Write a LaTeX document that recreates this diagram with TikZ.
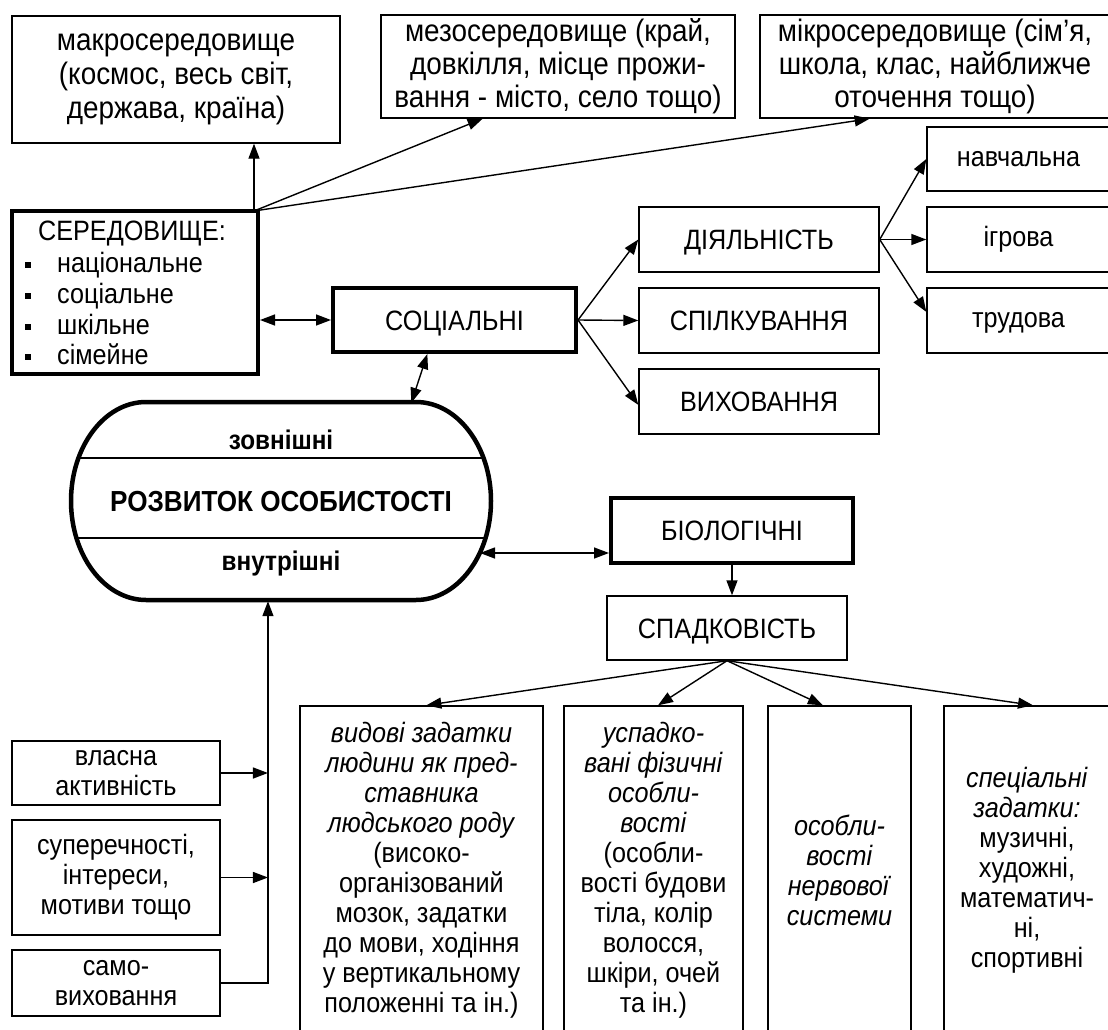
\documentclass[tikz,border=0pt]{standalone}
\usepackage{fontspec}
\setmainfont{Liberation Sans}[FakeStretch=0.9]
\usetikzlibrary{arrows.meta,calc}
\newcommand\bodyfs{\fontsize{28}{30}\selectfont}
\newcommand\topfs{\fontsize{31}{33}\selectfont}
\begin{document}
\begin{tikzpicture}[x=1pt,y=-1pt,
  bx/.style={draw, line width=1.4pt, inner sep=0pt, align=center, font=\bodyfs},
  tbx/.style={bx, line width=4pt},
  lc/.style={text height=14.5pt, text depth=0pt},
  uc/.style={text height=20pt, text depth=0pt},
  tip/.style={-{Triangle[length=15pt,width=11pt]}, line width=1.4pt},
  dtip/.style={{Triangle[length=15pt,width=11pt]}-{Triangle[length=15pt,width=11pt]}, line width=1.4pt},
  lbl/.style={inner sep=0pt, font=\bodyfs},
]
\useasboundingbox (0,0) rectangle (1108,1030);
\fill[white] (0,0) rectangle (1108,1030);

% top row
\node[bx, font=\fontsize{31}{34}\selectfont, minimum width=328pt, minimum height=127pt] (macro) at (176,79.5) {макросередовище\\(космос, весь світ,\\держава, країна)};
\node[bx, font=\topfs, minimum width=354pt, minimum height=103pt] (meso) at (558,66.5) {мезосередовище (край,\\довкілля, місце прожи-\\вання - місто, село тощо)};
\node[bx, font=\topfs, minimum width=350pt, minimum height=103pt] (micro) at (935,66.5) {мікросередовище (сім’я,\\школа, клас, найближче\\оточення тощо)};

% environment box
\node[tbx, minimum width=246pt, minimum height=163pt] (ser) at (135,292.5) {};
\node[lbl] (sertitle) at (132,234) {СЕРЕДОВИЩЕ:};
\node[lbl, anchor=base west] (s1) at (25,272) {\rule[4pt]{6pt}{6pt}\hspace{26pt}національне};
\node[lbl, anchor=base west] (s2) at (25,303) {\rule[4pt]{6pt}{6pt}\hspace{26pt}соціальне};
\node[lbl, anchor=base west] (s3) at (25,334) {\rule[4pt]{6pt}{6pt}\hspace{26pt}шкільне};
\node[lbl, anchor=base west] (s4) at (25,364) {\rule[4pt]{6pt}{6pt}\hspace{26pt}сімейне};

% social branch
\node[tbx, uc, minimum width=243pt, minimum height=64pt] (social) at (454.5,320) {СОЦІАЛЬНІ};
\node[bx, uc, minimum width=240pt, minimum height=65pt] (dial) at (759,239.5) {ДІЯЛЬНІСТЬ};
\node[bx, uc, minimum width=240pt, minimum height=65pt] (spilk) at (759,320.5) {СПІЛКУВАННЯ};
\node[bx, uc, minimum width=240pt, minimum height=65pt] (vykh) at (759,401.5) {ВИХОВАННЯ};
\node[bx, lc, minimum width=183pt, minimum height=64pt] (navch) at (1018.5,159) {навчальна};
\node[bx, lc, minimum width=183pt, minimum height=65pt] (igr) at (1018.5,239.5) {ігрова};
\node[bx, lc, minimum width=183pt, minimum height=65pt] (trud) at (1018.5,320.5) {трудова};

% central oval
\node[minimum width=420pt, minimum height=198pt, inner sep=0pt, font=\fontsize{29}{30}\selectfont\bfseries] (dev) at (281,502) {РОЗВИТОК ОСОБИСТОСТІ};
\begin{scope}
\clip (146,402) -- (416,402) .. controls (457.4,402) and (491,446.4) .. (491,501) .. controls (491,555.6) and (457.4,600) .. (416,600) -- (146,600) .. controls (104.6,600) and (71,555.6) .. (71,501) .. controls (71,446.4) and (104.6,402) .. (146,402) -- cycle;
\draw[line width=1.4pt] (60,458) -- (500,458);
\draw[line width=1.4pt] (60,538) -- (500,538);
\end{scope}
\draw[line width=4.5pt] (146,402) -- (416,402) .. controls (457.4,402) and (491,446.4) .. (491,501) .. controls (491,555.6) and (457.4,600) .. (416,600) -- (146,600) .. controls (104.6,600) and (71,555.6) .. (71,501) .. controls (71,446.4) and (104.6,402) .. (146,402) -- cycle;
\node[inner sep=0pt, font=\fontsize{27}{30}\selectfont\bfseries] (ext) at (281,440) {зовнішні};
\node[inner sep=0pt, font=\fontsize{27}{30}\selectfont\bfseries] (int) at (281,564) {внутрішні};

% biological branch
\node[tbx, uc, minimum width=242pt, minimum height=65pt] (bio) at (732,530.5) {БІОЛОГІЧНІ};
\node[bx, uc, minimum width=240pt, minimum height=64pt] (spadk) at (727,628) {СПАДКОВІСТЬ};
\node[bx, minimum width=243pt, minimum height=328pt] (vyd) at (421.5,870) {\textit{видові задатки}\\\textit{людини як пред-}\\\textit{ставника}\\\textit{людського роду}\\(високо-\\організований\\мозок, задатки\\до мови, ходіння\\у вертикальному\\положенні та ін.)};
\node[bx, minimum width=179pt, minimum height=328pt] (usp) at (653.5,870) {\textit{успадко-}\\\textit{вані фізичні}\\\textit{особли-}\\\textit{вості}\\(особли-\\вості будови\\тіла, колір\\волосся,\\шкіри, очей\\та ін.)};
\node[bx, minimum width=143pt, minimum height=328pt] (nerv) at (839.5,870) {\textit{особли-}\\\textit{вості}\\\textit{нервової}\\\textit{системи}};
\node[bx, minimum width=166pt, minimum height=328pt] (spec) at (1027,870) {\textit{спеціальні}\\\textit{задатки:}\\музичні,\\художні,\\математич-\\ні,\\спортивні};

% internal factors
\node[bx, minimum width=208pt, minimum height=64pt] (vlas) at (116,773) {власна\\активність};
\node[bx, minimum width=208pt, minimum height=115pt] (sup) at (116,877.5) {суперечності,\\інтереси,\\мотиви тощо};
\node[bx, minimum width=208pt, minimum height=66pt] (samo) at (116,983) {само-\\виховання};

% connectors
\coordinate (so) at (254,211);
\draw[tip] (so) -- (so |- macro.south);
\draw[tip] (so) -- ($(meso.south west)!0.288!(meso.south east)$);
\draw[tip] (so) -- ($(micro.south west)!0.314!(micro.south east)$);
\draw[dtip] (social.west -| ser.east) -- (social.west);
\draw[dtip] ($(social.south west)!0.39!(social.south east)$) -- ($(dev.north west)!0.81!(dev.north east)$);
\draw[tip] (social.east) -- (dial.west);
\draw[tip] (social.east) -- (spilk.west);
\draw[tip] (social.east) -- ($(vykh.north west)!0.55!(vykh.south west)$);
\draw[tip] (dial.east) -- (navch.west);
\draw[tip] (dial.east) -- (igr.west);
\draw[tip] (dial.east) -- ($(trud.north west)!0.37!(trud.south west)$);
\coordinate (ovr) at (480,553);
\draw[dtip] (ovr) -- (ovr -| bio.west);
\draw[tip] (bio.south) -- (bio.south |- spadk.north);
\draw[tip] (spadk.south) -- ($(vyd.north west)!0.52!(vyd.north east)$);
\draw[tip] (spadk.south) -- ($(usp.north west)!0.525!(usp.north east)$);
\draw[tip] (spadk.south) -- ($(nerv.north west)!0.385!(nerv.north east)$);
\draw[tip] (spadk.south) -- ($(spec.north west)!0.536!(spec.north east)$);
\coordinate (ovb) at ($(dev.south west)!0.469!(dev.south east)$);
\draw[tip] (samo.east) -| (ovb);
\draw[tip] (vlas.east) -- (vlas.east -| ovb);
\draw[tip] (sup.east) -- (sup.east -| ovb);
\end{tikzpicture}
\end{document}
